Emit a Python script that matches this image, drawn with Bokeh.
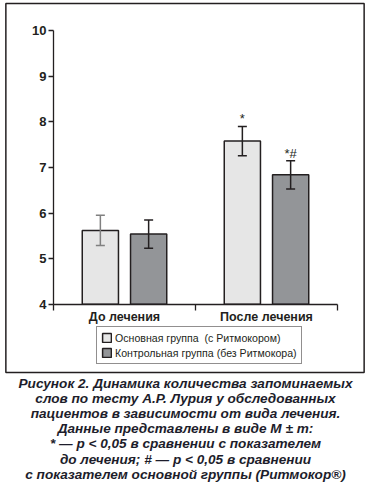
from bokeh.plotting import figure
from bokeh.models import ColumnDataSource, FixedTicker, Legend, LegendItem, Label
from bokeh.core.properties import value
from bokeh.embed import file_html
from bokeh.resources import INLINE

# ---- data ----
groups = ["До лечения", "После лечения"]
series = ["Основная группа  (с Ритмокором)", "Контрольная группа (без Ритмокора)"]
main_mean = [5.62, 7.58]
main_err = [0.33, 0.32]
ctrl_mean = [5.54, 6.84]
ctrl_err = [0.31, 0.31]
main_marks = ["", "*"]
ctrl_marks = ["", "*#"]
y_ticks = [4, 5, 6, 7, 8, 9, 10]
caption = [
    "Рисунок 2. Динамика количества запоминаемых",
    "слов по тесту А.Р. Лурия у обследованных",
    "пациентов в зависимости от вида лечения.",
    "Данные представлены в виде M ± m:",
    "* — p < 0,05 в сравнении с показателем",
    "до лечения; # — p < 0,05 в сравнении",
    "с показателем основной группы (Ритмокор®)",
]

INK = "#231f20"
FONT = "Liberation Sans"
OFF = 0.17
BW = 0.255

W, H = 368, 483
# pixel layout of the plotting area (figure pixels, from top-left)
AX_L, AX_R = 53, 337      # x = 0 .. 2
AX_T, AX_B = 30.3, 303.7  # y = 10 .. 4
Y0, Y1 = 4, 10
X0, X1 = 0, len(groups)
kx = (AX_R - AX_L) / (X1 - X0)
ky = (AX_B - AX_T) / (Y1 - Y0)
x_range = (X0 - AX_L / kx, X1 + (W - AX_R) / kx)
y_range = (Y0 - (H - AX_B) / ky, Y1 + AX_T / ky)


def make_src(means, errs, marks, err_colors, offset):
    return ColumnDataSource(dict(
        x=[i + 0.5 + offset for i in range(len(means))],
        top=means,
        lo=[m - e for m, e in zip(means, errs)],
        hi=[m + e for m, e in zip(means, errs)],
        mark=marks,
        ecol=err_colors,
    ))


src_main = make_src(main_mean, main_err, main_marks, ["#808080", INK], -OFF)
src_ctrl = make_src(ctrl_mean, ctrl_err, ctrl_marks, [INK, INK], OFF)

p = figure(width=W, height=H, x_range=x_range, y_range=y_range,
           output_backend="svg", toolbar_location=None,
           min_border=0, min_border_left=0, min_border_right=0,
           min_border_top=0, min_border_bottom=0)
p.xgrid.visible = False
p.ygrid.visible = False
p.outline_line_color = None
p.background_fill_color = "white"
p.border_fill_color = "white"

# outer frame box: a bordered, unfilled annotation box (box in screen pixels)
BOX_L, BOX_R, BOX_T, BOX_B = 5, 364, 3, 372
frame_box = Label(x=(BOX_L + BOX_R) / 2, y=H - (BOX_T + BOX_B) / 2,
                  x_units="screen", y_units="screen", text=" ",
                  text_align="center", text_baseline="middle",
                  text_font=FONT, text_font_size="1px",
                  border_line_color=INK, border_line_width=1.5,
                  background_fill_color=None)
half_w = int((BOX_R - BOX_L) / 2)
half_h = int((BOX_B - BOX_T) / 2)
try:
    frame_box.padding = dict(left=half_w, right=half_w, top=half_h, bottom=half_h)
except Exception:
    frame_box.padding = (half_h, half_w, half_h, half_w)
p.add_layout(frame_box)

r_main = p.vbar(x="x", top="top", bottom=Y0, width=BW, fill_color="#e6e6e6",
                line_color=INK, line_width=1.5, source=src_main)
r_ctrl = p.vbar(x="x", top="top", bottom=Y0, width=BW, fill_color="#939598",
                line_color=INK, line_width=1.5, source=src_ctrl)

for src in (src_main, src_ctrl):
    p.segment(x0="x", y0="lo", x1="x", y1="hi", line_color="ecol", line_width=1.5, source=src)
    p.scatter(x="x", y="hi", marker="dash", size=9, line_color="ecol", line_width=1.5, source=src)
    p.scatter(x="x", y="lo", marker="dash", size=9, line_color="ecol", line_width=1.5, source=src)
    p.text(x="x", y="hi", text="mark", text_align="center", text_baseline="bottom",
           y_offset=0, text_font=value(FONT), text_font_size="13px", text_color=INK, source=src)

# y axis
ya = p.yaxis[0]
ya.fixed_location = X0
ya.bounds = (Y0, Y1)
ya.ticker = FixedTicker(ticks=y_ticks)
ya.axis_line_color = INK
ya.axis_line_width = 1.3
ya.major_tick_line_color = INK
ya.major_tick_line_width = 1.3
ya.major_tick_out = 5
ya.major_tick_in = 0
ya.minor_tick_line_color = None
ya.major_label_standoff = 2
ya.major_label_text_font = FONT
ya.major_label_text_font_style = "bold"
ya.major_label_text_font_size = "13px"
ya.major_label_text_color = INK

# x axis
xa = p.xaxis[0]
xa.fixed_location = Y0
xa.bounds = (X0, X1)
xa.ticker = FixedTicker(ticks=[i + 0.5 for i in range(len(groups))],
                        minor_ticks=list(range(len(groups) + 1)))
xa.major_label_overrides = {i + 0.5: g for i, g in enumerate(groups)}
xa.axis_line_color = INK
xa.axis_line_width = 1.3
xa.major_tick_out = 0
xa.major_tick_in = 0
xa.major_tick_line_color = None
xa.minor_tick_out = 6
xa.minor_tick_in = 0
xa.minor_tick_line_color = INK
xa.minor_tick_line_width = 1.3
xa.major_label_standoff = 0
xa.major_label_text_font = FONT
xa.major_label_text_font_style = "bold"
xa.major_label_text_font_size = "12.5px"
xa.major_label_text_color = INK

legend = Legend(items=[LegendItem(label=series[0], renderers=[r_main]),
                       LegendItem(label=series[1], renderers=[r_ctrl])],
                location=(96, H - 364), orientation="vertical",
                border_line_color=INK, border_line_width=1.2,
                background_fill_color="white", background_fill_alpha=1,
                padding=4, spacing=2, margin=0,
                glyph_width=11, glyph_height=11, label_standoff=3,
                label_text_font=FONT, label_text_font_size="10.6px",
                label_text_color=INK, label_height=13)
p.add_layout(legend, "center")

for i, line in enumerate(caption):
    p.add_layout(Label(x=185, y=H - (383 + 15.1 * i), x_units="screen", y_units="screen",
                       text=line, text_align="center", text_baseline="middle",
                       text_font=FONT, text_font_style="bold italic",
                       text_font_size="13.6px", text_color="#1d1d2b"))

open("out.html", "w").write(file_html(p, INLINE))
